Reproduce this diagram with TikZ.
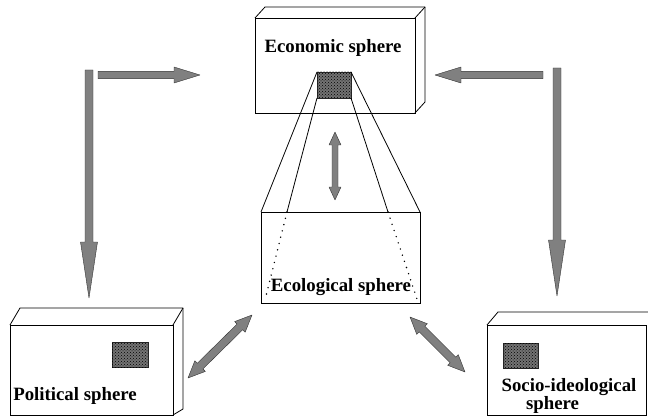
\documentclass[tikz,border=0pt]{standalone}
\usepackage{fontspec}
\setmainfont{Liberation Serif}
\usetikzlibrary{calc,patterns}

% single fat arrow: start, tip, shaft half width, head length, head half width
\newcommand\sglarrow[5]{%
  \filldraw[fatarrow]
    ($(#1)!#3!90:(#2)$) --
    ($(#2)!#4!(#1)!#3!90:(#2)$) --
    ($(#2)!#4!(#1)!#5!90:(#2)$) --
    (#2) --
    ($(#2)!#4!(#1)!#5!-90:(#2)$) --
    ($(#2)!#4!(#1)!#3!-90:(#2)$) --
    ($(#1)!#3!-90:(#2)$) -- cycle;}
% double fat arrow: tip, tip, shaft half width, head length, head half width
\newcommand\dblarrow[5]{%
  \filldraw[fatarrow]
    (#1) --
    ($(#1)!#4!(#2)!#5!90:(#2)$) --
    ($(#1)!#4!(#2)!#3!90:(#2)$) --
    ($(#2)!#4!(#1)!#3!90:(#2)$) --
    ($(#2)!#4!(#1)!#5!90:(#2)$) --
    (#2) --
    ($(#2)!#4!(#1)!#5!-90:(#2)$) --
    ($(#2)!#4!(#1)!#3!-90:(#2)$) --
    ($(#1)!#4!(#2)!#3!-90:(#2)$) --
    ($(#1)!#4!(#2)!#5!-90:(#2)$) -- cycle;}

\tikzset{
  face/.style={draw, line width=0.8pt, inner sep=0pt, outer sep=0pt},
  edge/.style={line width=0.8pt, line join=round},
  dotsq/.style={draw=black!85, fill=black!55, line width=0.5pt, inner sep=0pt, outer sep=0pt},
  capt/.style={font=\bfseries\fontsize{18.8}{16}\selectfont, inner sep=0pt, anchor=base},
  fatarrow/.style={draw=black!80, fill=black!50, line width=0.4pt, line join=round},
  dotline/.style={line width=1.6pt, dash pattern=on 0pt off 6.5pt, line cap=round},
}

\begin{document}
\begin{tikzpicture}[x=1pt, y=-1pt]
\useasboundingbox (0,0) rectangle (648,417);

% front faces of the four spheres
\node[face, minimum width=160pt, minimum height=95pt] (econ) at (335,65.5) {};
\node[face, minimum width=159pt, minimum height=91pt] (eco)  at (340.5,257.5) {};
\node[face, minimum width=163pt, minimum height=90pt] (pol)  at (91.5,370) {};
\node[face, minimum width=159pt, minimum height=90pt] (soc)  at (566.5,370) {};

% depth edges of the boxes
\draw[edge] (econ.north west) -- ++(10,-11) -- ++(160,0) coordinate (econbtr)
            -- ++(0,95) -- (econ.south east);
\draw[edge] (econ.north east) -- (econbtr);
\draw[edge] (pol.north west) -- ++(10,-17) -- ++(163,0) coordinate (polbtr)
            -- ++(0,101) -- (pol.south east);
\draw[edge] (pol.north east) -- (polbtr);
\draw[edge] (soc.north west) -- ++(11,-13) -- ++(160,0);

% shaded marks
\node[dotsq, minimum width=34pt, minimum height=26pt] (econsq) at (334,85) {};
\node[dotsq, minimum width=36pt, minimum height=25pt] (polsq)  at (130,354.5) {};
\node[dotsq, minimum width=35pt, minimum height=25pt] (socsq)  at (520.5,355.5) {};
\foreach \s in {econsq,polsq,socsq}
  \fill[pattern=crosshatch dots, pattern color=black] (\s.south west) rectangle (\s.north east);

% projection from the economic mark down to the ecological sphere
\coordinate (inl)  at (287,212);
\coordinate (inlb) at (265,300);
\coordinate (inr)  at (388,212);
\coordinate (inrb) at (417,299);
\draw[edge] (econsq.north west) -- (eco.north west);
\draw[edge] (econsq.north east) -- (eco.north east);
\draw[edge] (econsq.south west) -- (inl);
\draw[edge] (econsq.south east) -- (inr);
\draw[dotline] (inl) -- (inlb);
\draw[dotline] (inr) -- (inrb);

% captions
\node[capt] (econtxt) at (333,53) {Economic sphere};
\node[capt] (ecotxt)  at (341,291) {Ecological sphere};
\node[capt] (poltxt)  at (75,400) {Political sphere};
\node[capt, align=center, anchor=north] (soctxt) at (569,378)
  {Socio-ideological\\sphere\hspace*{33pt}};

% arrow end points
\coordinate (tlv1) at (89,70);   \coordinate (tlv2) at (89,298);
\coordinate (tlh1) at (98,75);   \coordinate (tlh2) at (200,75);
\coordinate (trh1) at (543,75);  \coordinate (trh2) at (435,75);
\coordinate (trv1) at (557,68);  \coordinate (trv2) at (557,296);
\coordinate (md1)  at (335,132); \coordinate (md2)  at (335,200);
\coordinate (pd1)  at (188,378); \coordinate (pd2)  at (252,315);
\coordinate (sd1)  at (410,317); \coordinate (sd2)  at (465,372);

% exchange arrows
\sglarrow{tlv1}{tlv2}{4pt}{56pt}{8.5pt}
\sglarrow{tlh1}{tlh2}{3.6pt}{26pt}{8pt}
\sglarrow{trh1}{trh2}{3.6pt}{26pt}{8pt}
\sglarrow{trv1}{trv2}{4pt}{56pt}{8.5pt}
\dblarrow{md1}{md2}{3pt}{13pt}{6pt}
\dblarrow{pd1}{pd2}{4pt}{17pt}{7.5pt}
\dblarrow{sd1}{sd2}{4pt}{17pt}{7.5pt}
\end{tikzpicture}
\end{document}
